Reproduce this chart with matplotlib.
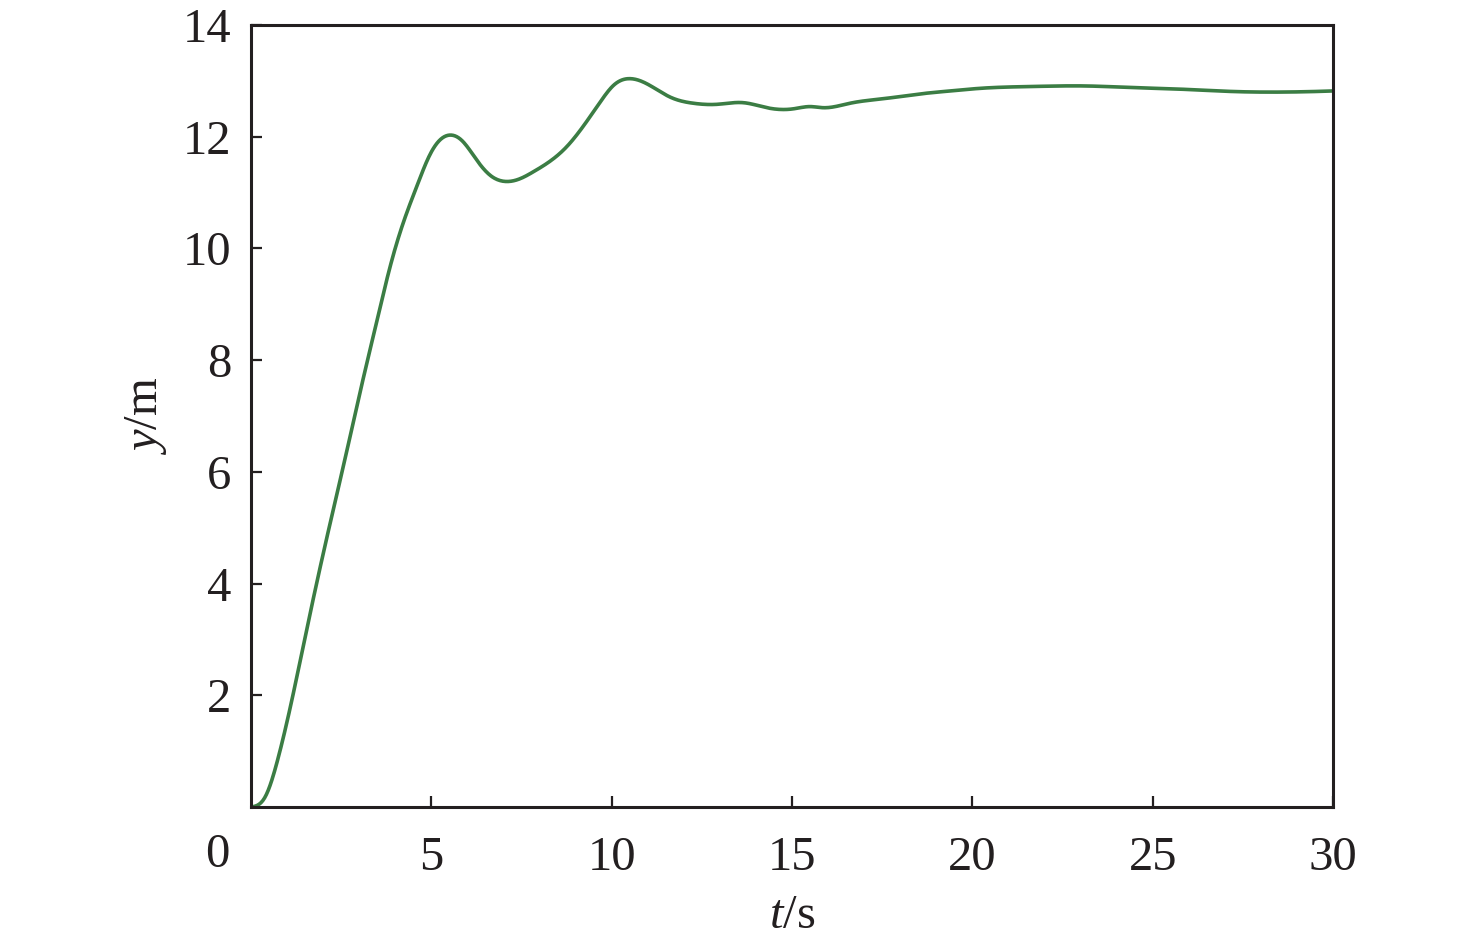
import matplotlib.pyplot as plt
import numpy as np

# response of y over time
t = [0, 0.39, 0.76, 1.03, 1.59, 2.1, 2.65, 3.02, 3.48, 3.85, 4.22, 4.6,
     4.96, 5.25, 5.52, 5.85, 6.26, 6.63, 7.04, 7.5, 7.82, 8.75, 9.68,
     10.05, 10.51, 10.97, 11.62, 12.26, 12.91, 13.65, 14.3, 15.04, 15.5,
     15.86, 16.61, 17.52, 18.46, 19.38, 20.29, 21.68, 23.07, 24.45, 25.84,
     27.22, 28.6, 29.5, 30]
y = [0, 0.18, 0.9, 1.62, 3.32, 4.82, 6.36, 7.42, 8.68, 9.66, 10.46, 11.12,
     11.68, 11.95, 12.03, 11.93, 11.58, 11.31, 11.2, 11.26, 11.37, 11.82, 12.62,
     12.92, 13.04, 12.95, 12.71, 12.6, 12.58, 12.61, 12.52, 12.5, 12.54,
     12.52, 12.6, 12.68, 12.76, 12.82, 12.87, 12.9, 12.91, 12.88, 12.85,
     12.81, 12.8, 12.81, 12.82]

xticks = [5, 10, 15, 20, 25, 30]
yticks = [2, 4, 6, 8, 10, 12, 14]

plt.rcParams['font.family'] = ['Liberation Serif', 'DejaVu Serif']
plt.rcParams['mathtext.fontset'] = 'custom'
plt.rcParams['mathtext.rm'] = 'Liberation Serif'
plt.rcParams['mathtext.it'] = 'Liberation Serif:italic'


def natural_spline(x, v, xs):
    # plain natural cubic spline through the read-off points
    x = np.asarray(x, float)
    v = np.asarray(v, float)
    n = len(x)
    h = np.diff(x)
    A = np.zeros((n, n))
    b = np.zeros(n)
    A[0, 0] = A[-1, -1] = 1
    for i in range(1, n - 1):
        A[i, i - 1] = h[i - 1]
        A[i, i] = 2 * (h[i - 1] + h[i])
        A[i, i + 1] = h[i]
        b[i] = 6 * ((v[i + 1] - v[i]) / h[i] - (v[i] - v[i - 1]) / h[i - 1])
    m = np.linalg.solve(A, b)
    idx = np.clip(np.searchsorted(x, xs) - 1, 0, n - 2)
    x0, x1 = x[idx], x[idx + 1]
    hh = x1 - x0
    a = (x1 - xs) / hh
    c = (xs - x0) / hh
    return (a * v[idx] + c * v[idx + 1]
            + ((a ** 3 - a) * m[idx] + (c ** 3 - c) * m[idx + 1]) * hh ** 2 / 6)


fig = plt.figure(figsize=(14.76, 9.52), dpi=100)
ax = fig.add_axes([0.1701, 0.1523, 0.7330, 0.8214])

ts = np.linspace(0, 30, 1200)
ys = natural_spline(t, y, ts)
ax.plot(ts, ys, color='#3b7d44', lw=2.6)

ax.set_xlim(0, 30)
ax.set_ylim(0, 14)
ax.set_xticks(xticks)
ax.set_yticks(yticks)
ax.tick_params(direction='in', length=8, width=1.6, labelsize=35, colors='#231f20')
ax.tick_params(axis='x', pad=21)
ax.tick_params(axis='y', pad=14)
for s in ax.spines.values():
    s.set_linewidth(2.2)
    s.set_color('#231f20')

# origin label sits off to the lower left
ax.annotate('0', xy=(0, 0), xytext=(-34, -48), textcoords='offset pixels',
            ha='center', va='center', fontsize=35, color='#231f20')

ax.set_xlabel(r'$t$/s', fontsize=35, color='#231f20', labelpad=10)
ax.set_ylabel(r'$y$/m', fontsize=35, color='#231f20', labelpad=10)

fig.savefig('out.png', dpi=100)
